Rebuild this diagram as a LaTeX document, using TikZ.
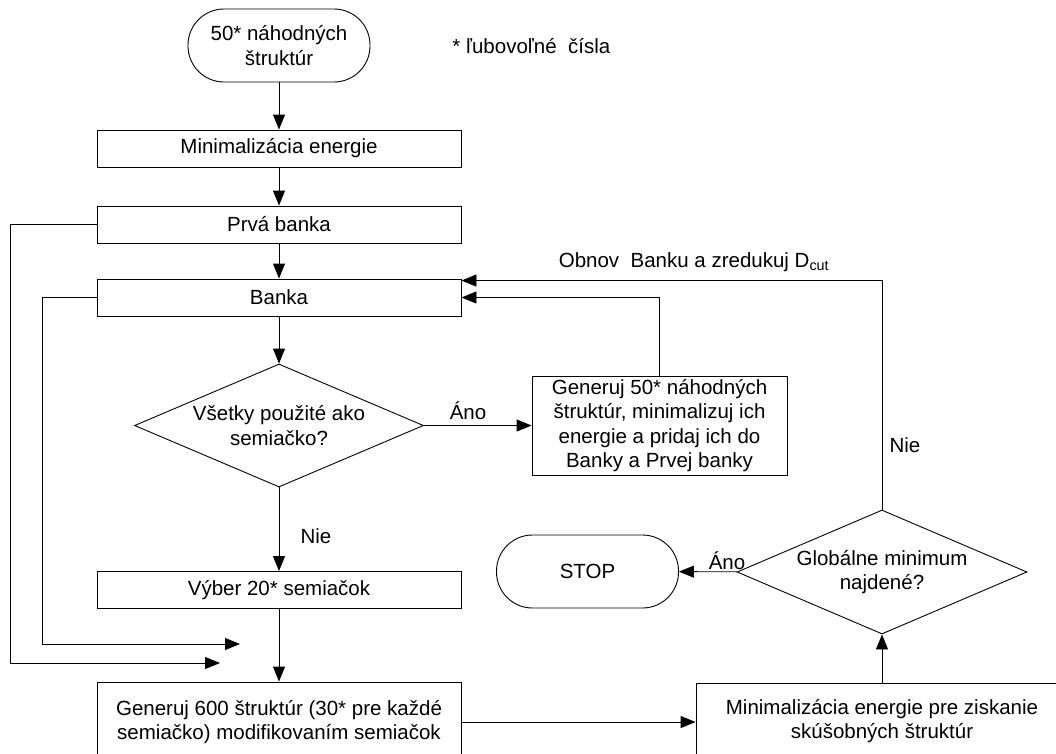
\documentclass[tikz,border=0pt]{standalone}
\usepackage{fontspec}
\setmainfont{Liberation Sans}
\usetikzlibrary{shapes.geometric,arrows.meta,calc,positioning}

\tikzset{
  blok/.style={draw, rectangle, minimum width=364pt, minimum height=37pt, inner sep=0pt, align=center},
  term/.style={draw, rectangle, rounded corners=36pt, minimum width=182pt, minimum height=73pt, inner sep=0pt, align=center},
  rozh/.style={draw, diamond, aspect=2.35, minimum width=290pt, minimum height=124pt, inner sep=0pt, align=center},
  spoj/.style={draw, -{Triangle[length=15pt,width=12pt]}},
  popis/.style={inner sep=0pt}
}

\begin{document}
\begin{tikzpicture}[x=1pt,y=-1pt,line width=0.9pt,font=\fontsize{20.5}{24.5}\selectfont]
\useasboundingbox (0,0) rectangle (1056,753);
% hlavna vetva
\node[term] (start) at (279,45.5) {50* náhodných\\štruktúr};
\node[popis,anchor=west] (pozn) at (452,46) {* ľubovoľné\ \ čísla};
\node[blok] (minE) at (279,148.5) {Minimalizácia energie};
\node[blok] (prva) at (279,224.5) {Prvá banka};
\node[blok] (banka) at (279,297.5) {Banka};
\node[rozh,minimum width=289pt,minimum height=123pt] (vsetky) at (279,425.5) {Všetky použité ako\\semiačko?};
\node[blok,minimum width=255pt,minimum height=99pt] (gen50) at (659.5,425.5) {Generuj 50* náhodných\\štruktúr, minimalizuj ich\\energie a pridaj ich do\\Banky a Prvej banky};
\node[blok] (vyber) at (279,590) {Výber 20* semiačok};
\node[blok,minimum height=80pt] (gen600) at (279,722) {Generuj 600 štruktúr (30* pre každé\\semiačko) modifikovaním semiačok};
\node[blok,minimum width=372pt,minimum height=76pt] (minP) at (882,721) {Minimalizácia energie pre ziskanie\\skúšobných štruktúr};
\node[rozh] (glob) at (882,572) {Globálne minimum\\najdené?};
\node[term] (stop) at (587.5,571.5) {STOP};
% popisy
\node[popis] (ano1) at (468,411) {Áno};
\node[popis] (nie1) at (316,536) {Nie};
\node[popis] (ano2) at (727,561) {Áno};
\node[popis] (nie2) at (905,445) {Nie};
\node[popis] (obnov) at (694,262) {Obnov\ \ Banku a zredukuj D\textsubscript{cut}};
% spojenia
\draw[spoj] (start) -- (minE);
\draw[spoj] (minE) -- (prva);
\draw[spoj] (prva) -- (banka);
\draw[spoj] (banka) -- (vsetky);
\draw[spoj] (vsetky) -- (gen50);
\draw[spoj] (vsetky) -- (vyber);
\draw[spoj] (vyber) -- (gen600);
\draw[spoj] (gen600.east) -- (gen600.east -| minP.west);
\draw[spoj] (minP) -- (glob);
\draw[spoj] (glob) -- (stop);
% spatne vetvy
\coordinate (b1) at ($(banka.north east)+(0,2)$);
\coordinate (p1) at (220,663);
\coordinate (b3) at (240,644);
\draw[spoj] (gen50.north) |- (banka.east);
\draw[spoj] (glob.north) |- (b1);
\draw[spoj] (prva.west) -- ++(-86,0) |- (p1);
\draw[spoj] (banka.west) -- ++(-54,0) |- (b3);
\end{tikzpicture}
\end{document}
